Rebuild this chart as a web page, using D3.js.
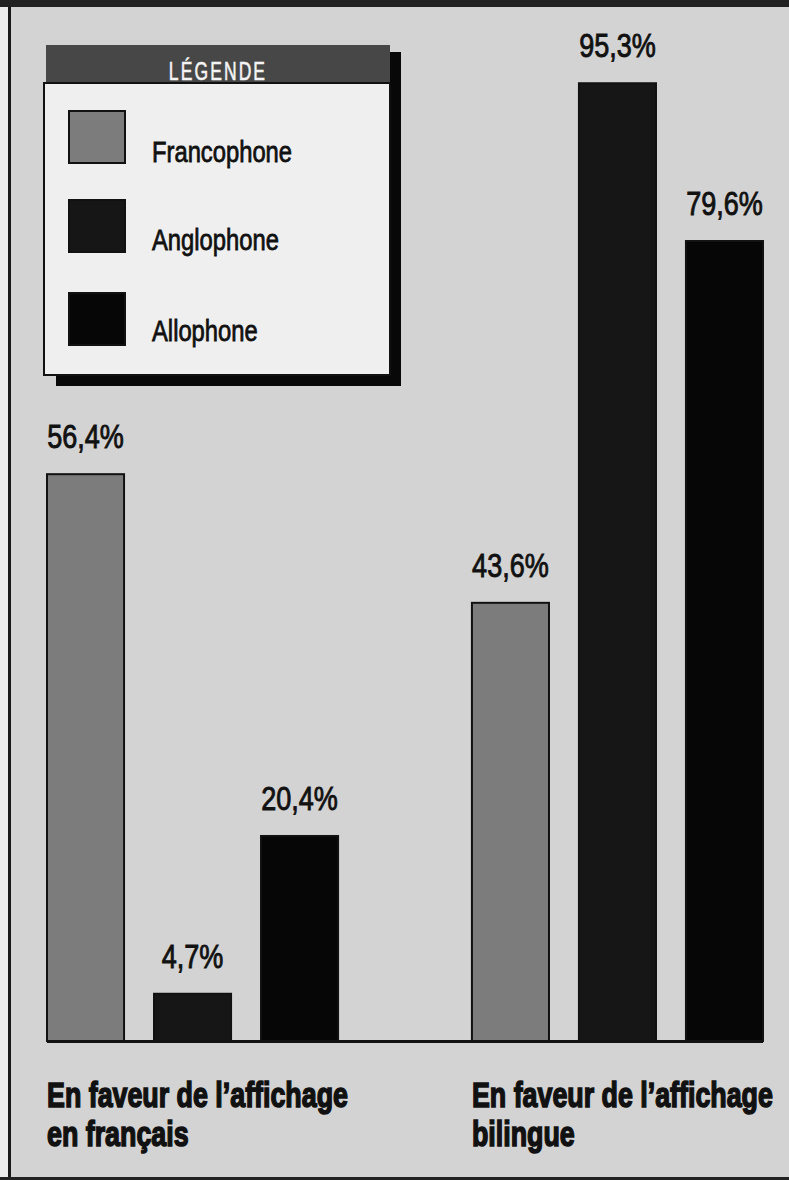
<!DOCTYPE html>
<html>
<head>
<meta charset="utf-8">
<script src="https://cdn.jsdelivr.net/npm/d3@7/dist/d3.min.js"></script>
<style>
  html, body { margin: 0; padding: 0; background: #d3d3d3; }
  svg { display: block; }
</style>
</head>
<body>
<svg id="chart" width="789" height="1180"></svg>
<script>
// ---- Data ----
const groups = ["En faveur de l’affichage en français", "En faveur de l’affichage bilingue"];
const groupLines = [["En faveur de l’affichage", "en français"], ["En faveur de l’affichage", "bilingue"]];
const series = ["Francophone", "Anglophone", "Allophone"];
const francophone = [56.4, 43.6];
const anglophone = [4.7, 95.3];
const allophone = [20.4, 79.6];
const valueLabels = [["56,4%", "4,7%", "20,4%"], ["43,6%", "95,3%", "79,6%"]];
const legendTitle = "LÉGENDE";

const seriesValues = [francophone, anglophone, allophone];
const colors = ["#7c7c7c", "#161616", "#060606"];
const FONT = "'Liberation Sans', Arial, Helvetica, sans-serif";
const NARROW = 0.82;

const svg = d3.select("#chart");
const W = 789, H = 1180;

// background & frame
svg.append("rect").attr("x", 0).attr("y", 0).attr("width", W).attr("height", H).attr("fill", "#d3d3d3");
svg.append("rect").attr("x", 0).attr("y", 0).attr("width", 9).attr("height", H).attr("fill", "#ececec");
svg.append("rect").attr("x", 8).attr("y", 0).attr("width", 3).attr("height", H).attr("fill", "#1a1a1a");
svg.append("rect").attr("x", 0).attr("y", 0).attr("width", W).attr("height", 7).attr("fill", "#222");
svg.append("rect").attr("x", 0).attr("y", 1177).attr("width", W).attr("height", 3).attr("fill", "#222");

// scales
const y = d3.scaleLinear().domain([0, 100]).range([1041, 36]);
const x0 = d3.scaleBand().domain(groups).range([47, 763]).paddingInner(0.315).paddingOuter(0);
const x1 = d3.scaleBand().domain(series).range([0, x0.bandwidth()]).paddingInner(0.28).paddingOuter(0);

const data = [];
groups.forEach((g, gi) => {
  series.forEach((s, si) => {
    data.push({ g, gi, s, si, v: seriesValues[si][gi], label: valueLabels[gi][si] });
  });
});

// bars
svg.append("g").selectAll("rect").data(data).join("rect")
  .attr("x", d => x0(d.g) + x1(d.s))
  .attr("y", d => y(d.v))
  .attr("width", x1.bandwidth())
  .attr("height", d => y(0) - y(d.v))
  .attr("fill", d => colors[d.si])
  .attr("stroke", "#111")
  .attr("stroke-width", 2);

// baseline
svg.append("line")
  .attr("x1", x0.range()[0]).attr("x2", x0.range()[1])
  .attr("y1", y(0) + 0.5).attr("y2", y(0) + 0.5)
  .attr("stroke", "#111").attr("stroke-width", 3);

// value labels
svg.append("g").selectAll("text").data(data).join("text")
  .attr("transform", d => `translate(${x0(d.g) + x1(d.s) + x1.bandwidth() / 2},${y(d.v) - 26}) scale(${NARROW},1)`)
  .attr("text-anchor", "middle")
  .attr("font-family", FONT)
  .attr("font-size", 33)
  .attr("fill", "#111")
  .attr("stroke", "#111").attr("stroke-width", 0.9)
  .text(d => d.label);

// category labels
const catG = svg.append("g");
groups.forEach((g, gi) => {
  const t = catG.append("text")
    .attr("font-family", FONT)
    .attr("font-weight", "bold")
    .attr("font-size", 36)
    .attr("fill", "#111")
    .attr("stroke", "#111").attr("stroke-width", 1.6);
  groupLines[gi].forEach((line, li) => {
    t.append("tspan").attr("x", 0).attr("y", li * 39).text(line);
  });
  const first = t.select("tspan").node().getComputedTextLength();
  const sx = first > 0 ? 301 / first : 1;
  t.attr("transform", `translate(${x0(g)},1107) scale(${sx},1)`);
});

// legend
const lg = svg.append("g");
lg.append("rect").attr("x", 56).attr("y", 52).attr("width", 345).attr("height", 334).attr("fill", "#080808");
lg.append("rect").attr("x", 46).attr("y", 45).attr("width", 344).attr("height", 39).attr("fill", "#474747");
lg.append("rect").attr("x", 44).attr("y", 83).attr("width", 346).attr("height", 292)
  .attr("fill", "#efefef").attr("stroke", "#111").attr("stroke-width", 2);
lg.append("text")
  .attr("transform", `translate(218,80) scale(0.7,1)`)
  .attr("text-anchor", "middle")
  .attr("font-family", FONT)
  .attr("font-size", 25).attr("letter-spacing", 3).attr("fill", "#f4f4f4")
  .attr("stroke", "#f4f4f4").attr("stroke-width", 0.6)
  .text(legendTitle);

const legendY = [111, 200, 293];
const legendTextY = [162, 250, 341];
series.forEach((s, i) => {
  lg.append("rect").attr("x", 69).attr("y", legendY[i]).attr("width", 56).attr("height", 52)
    .attr("fill", colors[i]).attr("stroke", "#111").attr("stroke-width", 2);
  lg.append("text")
    .attr("transform", `translate(152,${legendTextY[i]}) scale(${NARROW},1)`)
    .attr("font-family", FONT)
    .attr("font-size", 29).attr("fill", "#111")
    .attr("stroke", "#111").attr("stroke-width", 0.8)
    .text(s);
});
</script>
</body>
</html>
